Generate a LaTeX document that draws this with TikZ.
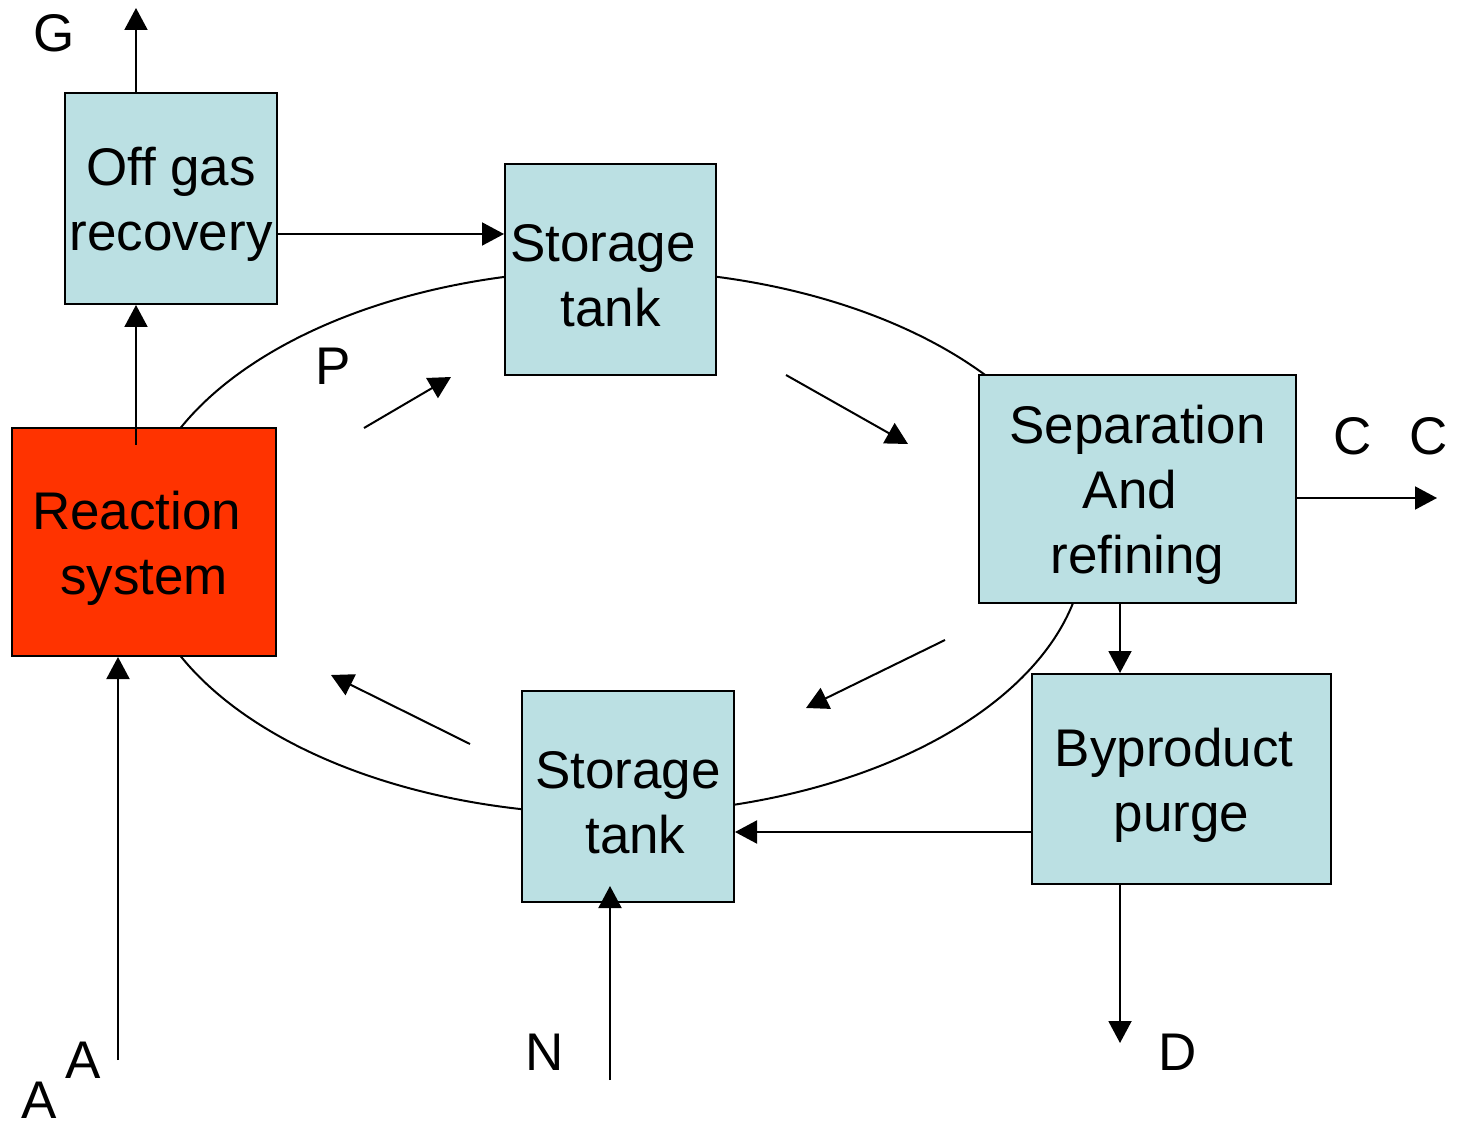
\documentclass[tikz,border=0pt]{standalone}
\usepackage{fontspec}
\setmainfont{Liberation Sans}
\usetikzlibrary{arrows.meta}
\definecolor{tankblue}{HTML}{BBE0E3}
\definecolor{reactred}{HTML}{FF3300}
\newcommand{\padsp}{\hbox to 7.4pt{}}

\begin{document}
\begin{tikzpicture}[x=0.5pt,y=-0.5pt,
  unit/.style={draw,line width=1pt,fill=tankblue,inner sep=0pt},
  utext/.style={align=center,inner sep=0pt,yshift=-3pt,
    font=\fontsize{26.5}{32.5}\selectfont},
  flow/.style={line width=1pt,-{Triangle[length=11pt,width=11.5pt]}},
  lbl/.style={inner sep=0pt,font=\fontsize{26.5}{32.5}\selectfont}]
\useasboundingbox (0,0) rectangle (1458,1123);
% recycle loop behind the units
\draw[line width=1pt] (611,542) ellipse [x radius=237pt, y radius=136pt];
% units
\node[unit,minimum width=106pt,minimum height=105.5pt,
  label={[utext]center:{Off gas\\recovery}}] (offgas) at (171,198.5) {};
\node[unit,minimum width=105.5pt,minimum height=105.5pt,
  label={[utext]center:{Storage\padsp\\tank}}] (storeT) at (610.5,269.5) {};
\node[unit,fill=reactred,minimum width=132pt,minimum height=114pt,
  label={[utext]center:{Reaction\padsp\\system}}] (react) at (144,542) {};
\node[unit,minimum width=158.5pt,minimum height=114pt,
  label={[utext]center:{Separation\\And\padsp\\refining}}] (sep) at (1137.5,489) {};
\node[unit,minimum width=149.5pt,minimum height=105pt,
  label={[utext]center:{Byproduct\padsp\\purge}}] (purge) at (1181.5,779) {};
\node[unit,minimum width=106pt,minimum height=105.5pt,
  label={[utext]center:{Storage\\\padsp tank}}] (storeB) at (628,796.5) {};
% free ends
\coordinate (gasout) at (136,8);
\coordinate (rtop) at (136,445);
\coordinate (gasfeed) at (277,234);
\coordinate (cout) at (1437,498);
\coordinate (dout) at (1120,1043);
\coordinate (back) at (1032,832);
\coordinate (nin) at (610,1080);
\coordinate (ntip) at (610,886);
\coordinate (ain) at (118,1060);
% streams
\draw[flow] (gasout |- offgas.north) -- (gasout);
\draw[flow] (rtop) -- (rtop |- offgas.south);
\draw[flow] (gasfeed) -- (gasfeed -| storeT.west);
\draw[flow] (sep.east |- cout) -- (cout);
\draw[flow] (sep.south -| dout) -- (purge.north -| dout);
\draw[flow] (purge.south -| dout) -- (dout);
\draw[flow] (back) -- (back -| storeB.east);
\draw[flow] (nin) -- (ntip);
\draw[flow] (ain) -- (ain |- react.south);
% direction of the loop
\foreach \sx/\sy/\ex/\ey in {364/428/451/377, 786/375/908/444, 945/640/806/708, 470/744/331/675}
  \draw[flow] (\sx,\sy) -- (\ex,\ey);
% labels
\node[lbl] (G) at (54,33) {G};
\node[lbl] (P) at (333,366) {P};
\node[lbl] (C1) at (1353,436) {C};
\node[lbl] (C2) at (1429,436) {C};
\node[lbl] (D) at (1178,1052) {D};
\node[lbl] (N) at (545,1052) {N};
\node[lbl] (A1) at (83,1060) {A};
\node[lbl] (A2) at (39,1100) {A};
\end{tikzpicture}
\end{document}
